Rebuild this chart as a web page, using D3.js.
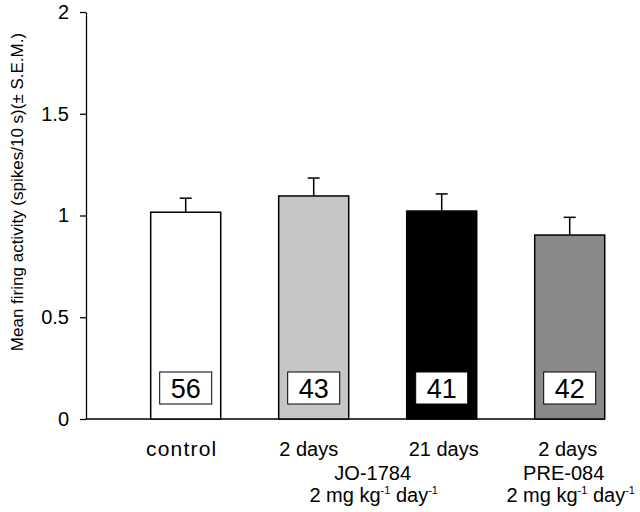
<!DOCTYPE html>
<html>
<head>
<meta charset="utf-8">
<script src="https://cdn.jsdelivr.net/npm/d3@7/dist/d3.min.js"></script>
<style>
  html, body { margin: 0; padding: 0; background: #fff; }
  text { font-family: "Liberation Sans", Arial, Helvetica, sans-serif; fill: #000; }
</style>
</head>
<body>
<svg id="chart" width="640" height="512"></svg>
<script>
// ---- data ----
const categories = ["control", "2 days JO", "21 days JO", "2 days PRE"];
const firstLine = ["control", "2 days", "21 days", "2 days"];
const values = [1.016, 1.096, 1.022, 0.904];
const sems = [0.069, 0.088, 0.084, 0.087];
const counts = [56, 43, 41, 42];
const fills = ["#ffffff", "#c6c6c6", "#000000", "#8a8a8a"];
const tickValues = [0, 0.5, 1, 1.5, 2];
const tickLabels = ["0", "0.5", "1", "1.5", "2"];
const drugGroups = [
  { name: "JO-1784", cats: ["2 days JO", "21 days JO"] },
  { name: "PRE-084", cats: ["2 days PRE"] }
];
const yTitle = "Mean firing activity (spikes/10 s)(\u00b1 S.E.M.)";

// ---- layout ----
const svg = d3.select("#chart");
const axisX = 86;
const y = d3.scaleLinear().domain([0, 2]).range([419, 12]);
const x = d3.scaleBand().domain(categories).range([121.7, 633.7])
  .paddingInner(0.453).paddingOuter(0.2265);
const labelShift = [-4, -5, 2, -2];

// y axis
const yAxis = d3.axisLeft(y).tickValues(tickValues)
  .tickFormat((d, i) => tickLabels[i]).tickSize(6).tickPadding(11).tickSizeOuter(0);
const gy = svg.append("g").attr("transform", `translate(${axisX},0)`).call(yAxis);
gy.select(".domain").attr("stroke", "#000").attr("stroke-width", 1.3);
gy.selectAll(".tick line").attr("stroke", "#000").attr("stroke-width", 1.3);
gy.selectAll(".tick text").style("font-size", "20px")
  .style("font-family", "'Liberation Sans', Arial, sans-serif").attr("fill", "#000");

// x axis line
const xEnd = x(categories[categories.length - 1]) + x.bandwidth();
svg.append("line")
  .attr("x1", axisX).attr("x2", xEnd)
  .attr("y1", y(0)).attr("y2", y(0))
  .attr("stroke", "#000").attr("stroke-width", 1.3);

// error bars
const capW = 12;
const eg = svg.append("g");
categories.forEach((c, i) => {
  const cx = x(c) + x.bandwidth() / 2;
  eg.append("line").attr("x1", cx).attr("x2", cx)
    .attr("y1", y(values[i])).attr("y2", y(values[i] + sems[i]))
    .attr("stroke", "#000").attr("stroke-width", 1.5);
  eg.append("line").attr("x1", cx - capW / 2).attr("x2", cx + capW / 2)
    .attr("y1", y(values[i] + sems[i])).attr("y2", y(values[i] + sems[i]))
    .attr("stroke", "#000").attr("stroke-width", 1.5);
});

// bars
svg.append("g").selectAll("rect").data(categories).join("rect")
  .attr("x", d => x(d))
  .attr("y", (d, i) => y(values[i]))
  .attr("width", x.bandwidth())
  .attr("height", (d, i) => y(0) - y(values[i]))
  .attr("fill", (d, i) => fills[i])
  .attr("stroke", "#000").attr("stroke-width", 1.5);

// count boxes
const boxW = 52, boxH = 32, boxBottom = y(0) - 15;
const bg = svg.append("g");
categories.forEach((c, i) => {
  const cx = x(c) + x.bandwidth() / 2;
  bg.append("rect").attr("x", cx - boxW / 2).attr("y", boxBottom - boxH)
    .attr("width", boxW).attr("height", boxH)
    .attr("fill", "#fff").attr("stroke", "#000").attr("stroke-width", 1);
  bg.append("text").attr("x", cx).attr("y", boxBottom - 6)
    .attr("text-anchor", "middle").style("font-size", "27px")
    .text(counts[i]);
});

// x labels
const lg = svg.append("g");
categories.forEach((c, i) => {
  const cx = x(c) + x.bandwidth() / 2;
  const t = lg.append("text").attr("x", cx + labelShift[i]).attr("y", 456)
    .attr("text-anchor", "middle")
    .style("font-size", i === 0 ? "21px" : "20px")
    .text(firstLine[i]);
  if (i === 0) t.style("letter-spacing", "1.2px");
});
const nameShift = [-5, -6];
const doseShift = [-4, 1];
drugGroups.forEach((g, k) => {
  const centers = g.cats.map(c => x(c) + x.bandwidth() / 2);
  const cx = d3.mean(centers);
  lg.append("text").attr("x", cx + nameShift[k]).attr("y", 480)
    .attr("text-anchor", "middle").style("font-size", "20px").text(g.name);
  const dose = lg.append("text").attr("x", cx + doseShift[k]).attr("y", 502)
    .attr("text-anchor", "middle").style("font-size", "20px");
  dose.append("tspan").text("2 mg kg");
  dose.append("tspan").attr("dy", -8).style("font-size", "11px").text("-1");
  dose.append("tspan").attr("dy", 8).text(" day");
  dose.append("tspan").attr("dy", -8).style("font-size", "11px").text("-1");
});

// y title
svg.append("text")
  .attr("transform", `translate(23,${192}) rotate(-90)`)
  .attr("text-anchor", "middle")
  .style("font-size", "17px")
  .text(yTitle);
</script>
</body>
</html>
